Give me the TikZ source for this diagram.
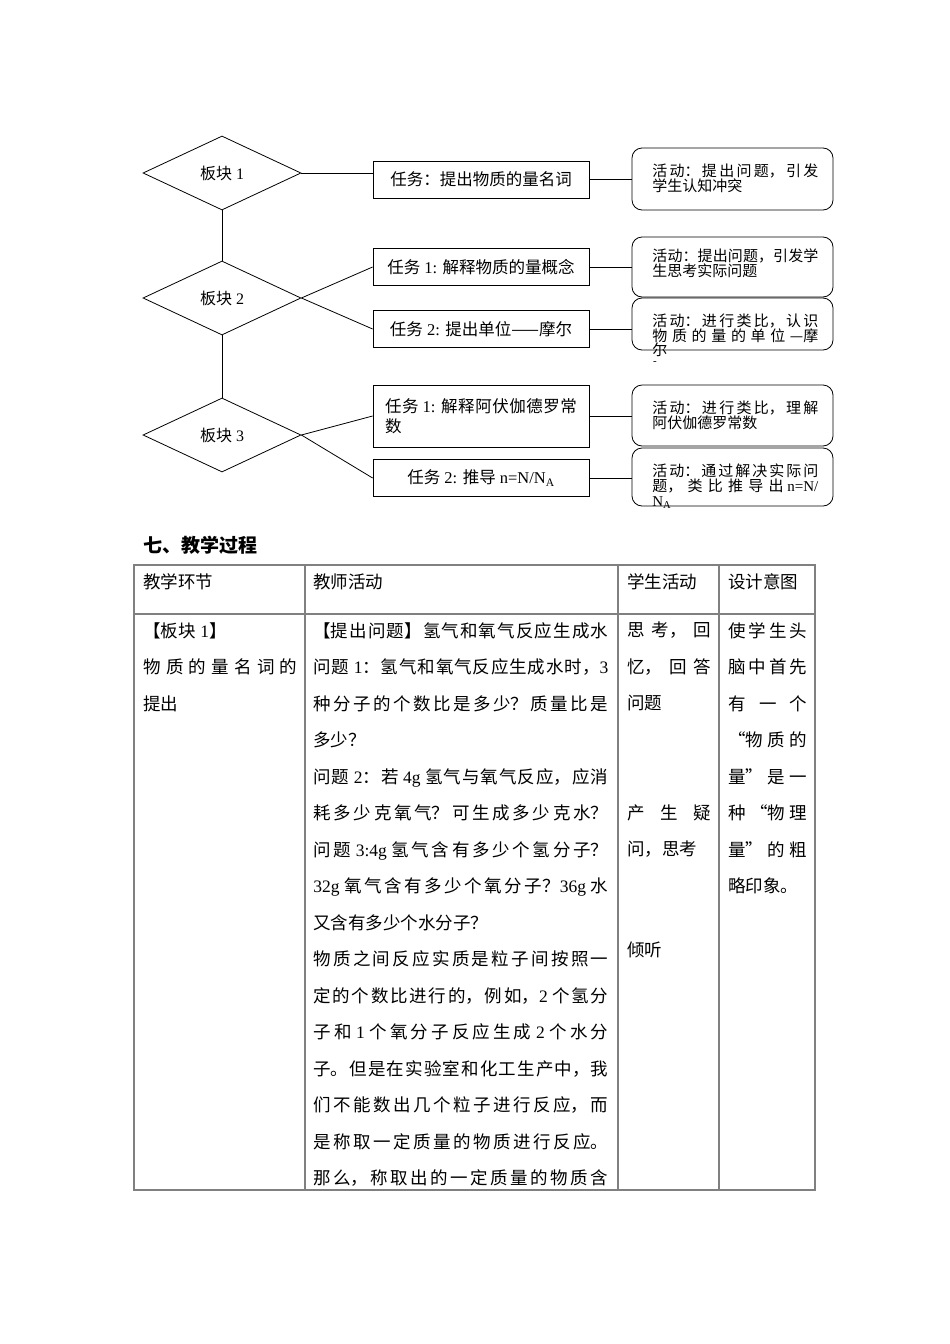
\documentclass[tikz,border=0pt]{standalone}
\usepackage{fontspec}
\setmainfont{Noto Sans CJK SC}
\newfontfamily\latf{Liberation Serif}
\newcommand\lt[1]{{\latf #1}}
\usetikzlibrary{shapes.geometric}
\XeTeXlinebreaklocale "zh"
\XeTeXlinebreakskip=0pt plus 20pt
\newcommand\jend{{\parfillskip=0pt\par}}
\tikzset{
  blk/.style={draw, diamond, minimum width=158pt, minimum height=74pt, inner sep=0pt, aspect=2.1, font=\fontsize{16}{16}\selectfont},
  task/.style={draw, rectangle, minimum width=216pt, minimum height=37pt, inner sep=3pt, font=\fontsize{16.5}{20}\selectfont},
  act/.style={draw, rounded corners=10pt, minimum width=201pt, inner sep=0pt},
  atext/.style={anchor=north west, inner sep=0pt, text width=166pt, align=justify, font=\fontsize{15}{15}\selectfont},
  cell/.style={anchor=north west, inner sep=0pt, align=justify, font=\fontsize{17.5}{36.5}\selectfont},
  head/.style={anchor=west, inner sep=0pt, font=\fontsize{17.5}{17.5}\selectfont},
  conn/.style={draw, line width=0.8pt},
  tblline/.style={draw=black!50, line width=1.5pt},
}
\begin{document}
\begin{tikzpicture}[x=1pt,y=-1pt,line width=0.8pt]
\useasboundingbox (0,0) rectangle (950,1344);
\fill[white] (0,0) rectangle (950,1344);

% diamonds
\node[blk] (b1) at (222,173) {板块\lt{ 1}};
\node[blk] (b2) at (222,298) {板块\lt{ 2}};
\node[blk] (b3) at (222,435) {板块\lt{ 3}};
\draw[conn] (b1.south) -- (b2.north);
\draw[conn] (b2.south) -- (b3.north);

% tasks
\node[task] (t1) at (481,179.5) {任务：提出物质的量名词};
\node[task] (t2a) at (481,267) {任务\lt{ 1: }解释物质的量概念};
\node[task] (t2b) at (481,329) {任务\lt{ 2: }提出单位——摩尔};
\node[task, minimum height=62pt, text width=192pt, align=justify] (t3a) at (481,416) {任务\lt{ 1: }解释阿伏伽德罗常\linebreak 数};
\node[task] (t3b) at (481,478) {任务\lt{ 2: }推导\lt{ n=N/N\textsubscript{A}}};

\draw[conn] (b1.east) -- (b1.east -| t1.west);
\draw[conn] (b2.east) -- (t2a.west);
\draw[conn] (b2.east) -- (t2b.west);
\draw[conn] (b3.east) -- (t3a.west);
\draw[conn] (b3.east) -- (t3b.west);

% activities
\node[act, minimum height=62pt] (a1) at (732.5,179) {};
\node[act, minimum height=60pt] (a2) at (732.5,267) {};
\node[act, minimum height=52pt] (a3) at (732.5,324) {};
\node[act, minimum height=61pt] (a4) at (732.5,415.5) {};
\node[act, minimum height=58pt] (a5) at (732.5,477) {};

\draw[conn] (t1.east) -- (t1.east -| a1.west);
\draw[conn] (t2a.east) -- (t2a.east -| a2.west);
\draw[conn] (t2b.east) -- (t2b.east -| a3.west);
\draw[conn] (t3a.east) -- (t3a.east -| a4.west);
\draw[conn] (t3b.east) -- (t3b.east -| a5.west);

\node[atext] (a1t) at (652,163) {活动：提出问题，引发\linebreak 学生认知冲突};
\node[atext] (a2t) at (652,248) {活动：提出问题，引发学\linebreak 生思考实际问题};
\node[atext, font=\fontsize{15}{14.2}\selectfont] (a3t) at (652,313) {活动：进行类比，认识\linebreak 物质的量的单位—摩\linebreak 尔};
\node[inner sep=0pt, font=\fontsize{11}{11}\selectfont] (dash) at (655,363) {\lt{-}};
\node[atext] (a4t) at (652,400) {活动：进行类比，理解\linebreak 阿伏伽德罗常数};
\node[atext] (a5t) at (652,463) {活动：通过解决实际问\linebreak 题，类比推导出 \lt{n=N/}\linebreak \lt{N\textsubscript{A}}};

% title
\node[anchor=west, inner sep=0pt, font=\fontsize{19}{19}\selectfont\bfseries] (title) at (143,545) {七、教学过程};

% table
\draw[tblline] (134,565) rectangle (815,1190);
\draw[tblline] (134,614) -- (815,614);
\draw[tblline] (305,565) -- (305,1190);
\draw[tblline] (618,565) -- (618,1190);
\draw[tblline] (719,565) -- (719,1190);

\node[head] (h1) at (143,582) {教学环节};
\node[head] (h2) at (313,582) {教师活动};
\node[head] (h3) at (627,582) {学生活动};
\node[head] (h4) at (728,582) {设计意图};

\node[cell, text width=154pt] (c1) at (143,621.8) {【板块\lt{ 1}】\par
物质的量名词的\linebreak
提出};

\node[cell, text width=295pt] (c2) at (313,621.8) {【提出问题】氢气和氧气反应生成水\linebreak
问题\lt{ 1}：氢气和氧气反应生成水时，\lt{3}\linebreak
种分子的个数比是多少？质量比是\linebreak
多少？\par
问题\lt{ 2}：若\lt{ 4g }氢气与氧气反应，应消\linebreak
耗多少克氧气？可生成多少克水？\jend
问题\lt{ 3:4g }氢气含有多少个氢分子？\linebreak
\lt{32g }氧气含有多少个氧分子？\lt{36g }水\linebreak
又含有多少个水分子？\par
物质之间反应实质是粒子间按照一\linebreak
定的个数比进行的，例如，\lt{2 }个氢分\linebreak
子和\lt{ 1 }个氧分子反应生成\lt{ 2 }个水分\linebreak
子。但是在实验室和化工生产中，我\linebreak
们不能数出几个粒子进行反应，而\linebreak
是称取一定质量的物质进行反应。\linebreak
那么，称取出的一定质量的物质含\jend};

\node[cell, text width=84pt] (c3a) at (627,621.8) {思考，回\linebreak 忆，回答\linebreak 问题};
\node[cell, text width=84pt] (c3b) at (627,804.3) {产生疑\linebreak 问，思考};
\node[cell, text width=84pt] (c3c) at (627,941.8) {倾听};

\node[cell, text width=79pt] (c4) at (728,621.8) {使学生头\linebreak 脑中首先\linebreak 有一个\linebreak “物质的\linebreak 量”是一\linebreak 种“物理\linebreak 量”的粗\linebreak 略印象。};
\end{tikzpicture}
\end{document}
